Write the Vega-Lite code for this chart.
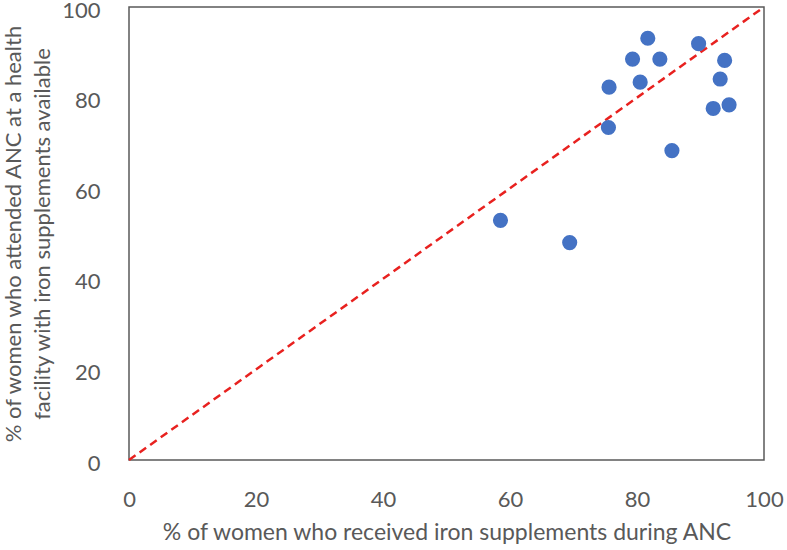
{
  "$schema": "https://vega.github.io/schema/vega-lite/v6.json",
  "width": 635,
  "height": 453,
  "autosize": {"type": "none"},
  "padding": {"left": 129, "top": 7, "right": 23, "bottom": 90},
  "background": "white",
  "config": {
    "view": {"stroke": "#595959", "strokeWidth": 1.5},
    "font": "Lato",
    "axis": {
      "grid": false,
      "domain": false,
      "ticks": false,
      "labelFont": "Lato",
      "labelFontSize": 22,
      "labelColor": "#595959",
      "titleFont": "Lato",
      "titleFontSize": 23,
      "titleFontWeight": "normal",
      "titleColor": "#595959"
    }
  },
  "datasets": {
    "points": [
      {"received": 81.7, "available": 93.1},
      {"received": 79.3, "available": 88.5},
      {"received": 83.6, "available": 88.5},
      {"received": 89.7, "available": 91.9},
      {"received": 93.8, "available": 88.2},
      {"received": 75.6, "available": 82.3},
      {"received": 80.5, "available": 83.4},
      {"received": 93.1, "available": 84.1},
      {"received": 92.0, "available": 77.6},
      {"received": 94.5, "available": 78.4},
      {"received": 75.5, "available": 73.4},
      {"received": 85.5, "available": 68.3},
      {"received": 58.5, "available": 52.9},
      {"received": 69.4, "available": 48.0}
    ],
    "diag": [
      {"received": 0, "available": 0},
      {"received": 100, "available": 100}
    ]
  },
  "layer": [
    {
      "data": {"name": "diag"},
      "mark": {"type": "line", "color": "#E8211F", "strokeWidth": 2.5, "strokeDash": [8, 5]},
      "encoding": {
        "x": {"field": "received", "type": "quantitative", "scale": {"domain": [0, 100], "nice": false},
          "axis": {"values": [0, 20, 40, 60, 80, 100], "labelPadding": 29, "titlePadding": 11, "labelFlush": false,
            "title": "% of women who received iron supplements during ANC"}},
        "y": {"field": "available", "type": "quantitative", "scale": {"domain": [0, 100], "nice": false},
          "axis": {"values": [0, 20, 40, 60, 80, 100], "labelPadding": 29, "labelOffset": 3, "titlePadding": 7, "labelFlush": false,
            "titleLineHeight": 29, "titleFontSize": 22,
            "title": ["% of women who attended ANC at a health", "facility with iron supplements available"]}}
      }
    },
    {
      "data": {"name": "points"},
      "mark": {"type": "circle", "color": "#4472C4", "opacity": 1, "size": 230},
      "encoding": {
        "x": {"field": "received", "type": "quantitative"},
        "y": {"field": "available", "type": "quantitative"}
      }
    }
  ]
}
